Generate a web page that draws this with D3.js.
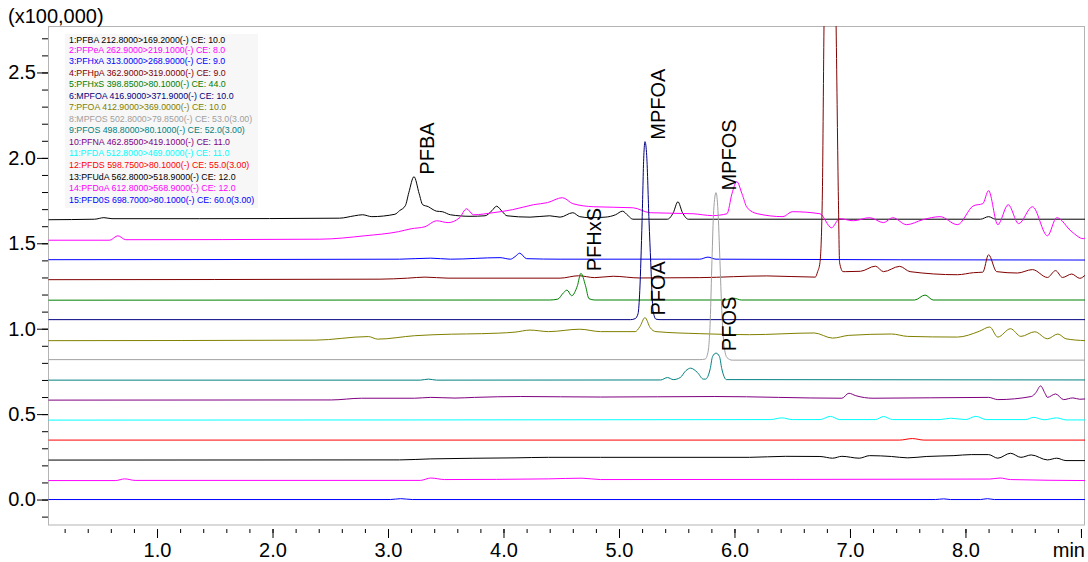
<!DOCTYPE html>
<html>
<meta charset="UTF-8">

<head>
  <script src="https://d3js.org/d3.v7.min.js"></script>
  <style>
    body { margin: 0; background: #fff; }
    svg { font-family: Arial, "Liberation Sans", sans-serif; }
  </style>
</head>

<body>
  <svg id="chart" width="1088" height="562"></svg>

  <script type="text/javascript">
    // legend entries, one per MRM trace (top trace first)
    const traceNames = [
      "1:PFBA 212.8000>169.2000(-) CE: 10.0",
      "2:PFPeA 262.9000>219.1000(-) CE: 8.0",
      "3:PFHxA 313.0000>268.9000(-) CE: 9.0",
      "4:PFHpA 362.9000>319.0000(-) CE: 9.0",
      "5:PFHxS 398.8500>80.1000(-) CE: 44.0",
      "6:MPFOA 416.9000>371.9000(-) CE: 10.0",
      "7:PFOA 412.9000>369.0000(-) CE: 10.0",
      "8:MPFOS 502.8000>79.8500(-) CE: 53.0(3.00)",
      "9:PFOS 498.8000>80.1000(-) CE: 52.0(3.00)",
      "10:PFNA 462.8500>419.1000(-) CE: 11.0",
      "11:PFDA 512.8000>469.0000(-) CE: 11.0",
      "12:PFDS 598.7500>80.1000(-) CE: 55.0(3.00)",
      "13:PFUdA 562.8000>518.9000(-) CE: 12.0",
      "14:PFDoA 612.8000>568.9000(-) CE: 12.0",
      "15:PFD0S 698.7000>80.1000(-) CE: 60.0(3.00)"
    ]

    const traceColors = [
      "#000000", "#ff00ff", "#0000ff", "#800000", "#008000",
      "#000080", "#808000", "#a0a0a0", "#008080", "#800080",
      "#00ffff", "#ff0000", "#000000", "#ff00ff", "#0000ff"
    ]

    // [time (min), intensity (x100,000)] above each trace's own baseline
    const pfba = [[0.06,0],[0.46,0.003],[0.54,0.012],[0.61,0.006],[1.37,0.006],[2.58,0.009],[2.71,0.023],[2.78,0.029],[2.86,0.018],[3.06,0.032],[3.10,0.053],[3.15,0.082],[3.18,0.158],[3.225,0.252],[3.27,0.152],[3.30,0.088],[3.35,0.076],[3.39,0.059],[3.42,0.050],[3.47,0.047],[3.54,0.029],[3.71,0.020],[3.84,0.023],[3.90,0.053],[3.94,0.079],[3.99,0.047],[4.03,0.023],[4.23,0.015],[4.40,0.023],[4.49,0.015],[4.60,0.041],[4.66,0.018],[4.75,0.012],[4.88,0.015],[4.97,0.029],[5.03,0.050],[5.08,0.023],[5.12,0.003],[5.42,0.003],[5.47,0.041],[5.51,0.105],[5.55,0.041],[5.60,0.003],[8.13,0.003],[8.20,0.018],[8.26,0.003],[9.04,0.003]]
    const pfpea = [[0.06,-0.003],[0.59,-0.003],[0.66,0.023],[0.73,0],[2.41,0.003],[2.80,0.023],[3.09,0.047],[3.20,0.064],[3.32,0.076],[3.42,0.111],[3.52,0.100],[3.62,0.129],[3.68,0.181],[3.74,0.146],[3.91,0.158],[4.08,0.176],[4.26,0.205],[4.38,0.217],[4.51,0.246],[4.60,0.211],[4.78,0.193],[5.12,0.187],[5.27,0.158],[5.64,0.152],[5.81,0.141],[5.935,0.152],[5.978,0.269],[6.02,0.340],[6.065,0.269],[6.11,0.187],[6.20,0.152],[6.42,0.135],[6.50,0.164],[6.74,0.152],[6.84,0.070],[6.91,0.123],[7.03,0.111],[7.17,0.129],[7.29,0.100],[7.37,0.129],[7.49,0.088],[7.63,0.117],[7.78,0.135],[7.93,0.088],[8.07,0.199],[8.15,0.211],[8.20,0.287],[8.28,0.088],[8.37,0.205],[8.46,0.094],[8.58,0.193],[8.71,0.023],[8.79,0.129],[8.92,0.047],[9.02,0.006],[9.04,0.012]]
    const pfhxa = [[0.06,0],[3.10,0.003],[3.37,0.009],[3.54,0.003],[3.97,0.012],[4.06,0.003],[4.10,0.018],[4.14,0.038],[4.20,0.006],[4.49,0.003],[5.70,0.003],[5.77,0.015],[5.84,0.003],[9.04,-0.002]]
    const pfhpa = [[0.06,0],[2.93,0.003],[3.17,0.009],[3.32,0.015],[3.52,0.009],[4.49,0.009],[4.65,0.023],[4.79,0.012],[4.95,0.020],[5.18,0.010],[5.70,0.012],[6.28,0.022],[6.70,0.015],[6.72,0.047],[6.74,0.100],[6.76,0.463],[6.775,1.481],[6.83,3.3],[6.88,1.481],[6.90,0.463],[6.91,0.100],[6.94,0.047],[6.96,0.047],[7.09,0.049],[7.22,0.079],[7.29,0.047],[7.43,0.078],[7.52,0.047],[7.93,0.029],[8.07,0.041],[8.15,0.044],[8.20,0.146],[8.27,0.047],[8.45,0.039],[8.58,0.059],[8.71,0.013],[8.78,0.053],[8.84,0.013],[8.92,0.033],[8.99,0.008],[9.04,0.029]]
    const pfhxs = [[0.06,-0.003],[4.40,-0.002],[4.47,0.003],[4.52,0.041],[4.55,0.056],[4.59,0.023],[4.64,0.082],[4.67,0.154],[4.71,0.082],[4.74,0.006],[4.79,-0.002],[5.92,-0.002],[5.99,0.009],[6.06,-0.002],[7.56,-0.002],[7.65,0.027],[7.72,-0.002],[9.04,-0.002]]
    const mpfoa = [[0.06,0],[5.10,0],[5.14,0.006],[5.165,0.035],[5.18,0.170],[5.20,0.580],[5.215,0.960],[5.225,1.042],[5.24,0.960],[5.26,0.580],[5.275,0.334],[5.295,0.053],[5.32,0.003],[5.355,0],[9.04,0]]
    const pfoa = [[0.06,-0.006],[2.37,-0.003],[2.83,0.018],[2.91,0.003],[3.23,0.023],[3.55,0.032],[3.81,0.035],[4.10,0.044],[4.23,0.056],[4.39,0.047],[4.66,0.061],[4.84,0.047],[5.14,0.047],[5.18,0.075],[5.225,0.129],[5.27,0.070],[5.32,0.047],[5.70,0.035],[6.13,0.029],[6.69,0.039],[6.85,0.009],[6.99,0.025],[7.36,0.033],[7.50,0.019],[7.93,0.015],[8.12,0.049],[8.21,0.074],[8.28,0.015],[8.39,0.064],[8.48,0.019],[8.60,0.046],[8.71,0.005],[8.80,0.033],[8.87,0.005],[9.04,-0.006]]
    const mpfos = [[0.06,0],[5.70,0],[5.745,0.003],[5.77,0.041],[5.79,0.228],[5.805,0.580],[5.82,0.873],[5.84,0.978],[5.857,0.873],[5.874,0.580],[5.89,0.287],[5.91,0.082],[5.935,0.012],[5.98,-0.003],[9.04,-0.003]]
    const pfos = [[0.06,-0.003],[3.28,-0.003],[3.35,0.003],[3.42,-0.003],[5.36,-0.002],[5.42,0.012],[5.47,0],[5.53,0.012],[5.58,0.053],[5.62,0.067],[5.68,0.041],[5.73,0.003],[5.75,0.003],[5.79,0.064],[5.81,0.135],[5.84,0.155],[5.87,0.135],[5.89,0.064],[5.93,0],[9.04,-0.002]]
    const pfna = [[0.06,-0.003],[2.51,-0.002],[2.77,0.008],[3.23,0.008],[3.37,0.013],[3.58,0.009],[3.75,0.013],[4.15,0.018],[4.84,0.015],[5.83,0.018],[6.93,0.008],[6.99,0.037],[7.05,0.023],[7.20,0.008],[8.20,0.013],[8.28,0],[8.57,0.018],[8.61,0.041],[8.65,0.080],[8.69,0.035],[8.71,0.013],[8.78,0.033],[8.85,0],[8.93,0.010],[8.99,0.002],[9.04,0.004]]
    const pfda = [[0.06,-0.003],[6.31,0],[6.41,0.010],[6.50,0],[6.74,0],[6.83,0.019],[6.91,0],[7.22,0],[7.29,0.018],[7.37,0],[7.78,0],[7.87,0.008],[8.00,0],[8.09,0.019],[8.18,0],[8.52,0],[8.59,0.013],[8.68,-0.001],[8.79,0.010],[8.87,-0.002],[9.04,-0.002]]
    const pfds = [[0.06,-0.003],[7.43,-0.003],[7.54,0.006],[7.64,-0.003],[9.04,-0.003]]
    const pfuda = [[0.06,-0.003],[3.10,-0.002],[3.37,0.004],[4.10,0.010],[4.39,0.013],[4.84,0.013],[6.13,0.013],[6.44,0.019],[6.74,0.018],[6.85,0.008],[6.93,0.019],[7.08,0.008],[7.17,0.023],[7.36,0.018],[7.50,0.010],[7.66,0.018],[7.90,0.023],[8.05,0.029],[8.20,0.029],[8.28,0.008],[8.39,0.037],[8.48,0.013],[8.57,0.027],[8.71,-0.002],[8.79,0.008],[8.87,-0.006],[9.04,-0.006]]
    const pfdoa = [[0.06,-0.006],[0.64,-0.006],[0.72,0.004],[0.81,-0.005],[3.28,-0.005],[3.37,0.009],[3.49,0],[4.39,0.004],[4.68,0.008],[4.84,0],[8.21,0.003],[8.30,0.009],[8.39,0],[9.04,-0.006]]
    const pfdos = [[0.06,0],[3.02,0],[3.11,0.005],[3.21,0],[7.74,0],[7.81,0.004],[7.87,0],[8.13,0],[8.19,0.005],[8.25,0],[9.04,0]]

    const traces = [pfba, pfpea, pfhxa, pfhpa, pfhxs, mpfoa, pfoa, mpfos, pfos, pfna, pfda, pfds, pfuda, pfdoa, pfdos]

    // peak annotations: name, trace index, retention time
    const peakNames = ["PFBA", "PFHxS", "MPFOA", "PFOA", "MPFOS", "PFOS"]
    const peakTraces = [0, 4, 5, 6, 7, 8]
    const peakTimes = [3.225, 4.67, 5.225, 5.225, 5.84, 5.84]

    const yTickLabels = ["0.0", "0.5", "1.0", "1.5", "2.0", "2.5"]
    const xTickLabels = ["1.0", "2.0", "3.0", "4.0", "5.0", "6.0", "7.0", "8.0", ""]
    const unitLabel = "(x100,000)"
    const timeUnit = "min"

    const traceStep = 0.117   // vertical offset between stacked traces

    const svg = d3.select("#chart")
    const plot = { left: 48, top: 26, right: 1085, bottom: 525.5 }

    const x = d3.scaleLinear().domain([0.056, 9.035]).range([plot.left, plot.right])
    const y = d3.scaleLinear().domain([-0.152, 2.772]).range([plot.bottom, plot.top])

    const baseOf = i => (traces.length - 1 - i) * traceStep

    svg.append("defs").append("clipPath").attr("id", "clip")
      .append("rect")
      .attr("x", plot.left).attr("y", plot.top)
      .attr("width", plot.right - plot.left).attr("height", plot.bottom - plot.top)

    // frame
    svg.append("rect")
      .attr("x", plot.left + 0.5).attr("y", plot.top + 0.5)
      .attr("width", plot.right - plot.left - 1).attr("height", plot.bottom - plot.top - 1)
      .style("fill", "none")
      .style("stroke", "#b4b4b4")

    // y axis
    const yMinor = d3.range(-1, 28).map(d => d / 10)
    const yMajor = yTickLabels.map(Number)

    const yMinorG = svg.append("g")
      .attr("transform", `translate(${plot.left},0)`)
      .call(d3.axisLeft(y).tickValues(yMinor).tickSize(6).tickFormat(""))
    yMinorG.select(".domain").remove()

    const yMajorG = svg.append("g")
      .attr("transform", `translate(${plot.left},0)`)
      .call(d3.axisLeft(y).tickValues(yMajor).tickSize(11).tickPadding(1)
        .tickFormat((d, i) => yTickLabels[i]))
    yMajorG.select(".domain").remove()
    yMajorG.selectAll("text").style("font-size", "20px").style("font-family", "Arial, 'Liberation Sans', sans-serif")

    // x axis
    const xMinor = d3.range(1, 46).map(d => d / 5)
    const xMajor = d3.range(1, 10)

    const xMinorG = svg.append("g")
      .attr("transform", `translate(0,${plot.bottom + 3.5})`)
      .call(d3.axisBottom(x).tickValues(xMinor).tickSize(4).tickFormat(""))
    xMinorG.select(".domain").remove()

    const xMajorG = svg.append("g")
      .attr("transform", `translate(0,${plot.bottom + 3.5})`)
      .call(d3.axisBottom(x).tickValues(xMajor).tickSize(9).tickPadding(5)
        .tickFormat((d, i) => xTickLabels[i]))
    xMajorG.select(".domain").remove()
    xMajorG.selectAll("text").style("font-size", "20px").style("font-family", "Arial, 'Liberation Sans', sans-serif")

    svg.selectAll(".tick line").style("stroke", "#000")

    svg.append("text")
      .attr("x", plot.right)
      .attr("y", 557)
      .style("text-anchor", "end")
      .style("font-size", "20px")
      .text(timeUnit)

    svg.append("text")
      .attr("x", 8)
      .attr("y", 23)
      .style("font-size", "20px")
      .text(unitLabel)

    // legend
    const legendG = svg.append("g")
    legendG.append("rect")
      .attr("x", 65).attr("y", 34)
      .attr("width", 193).attr("height", 174)
      .style("fill", "#f7f7f7")

    legendG.selectAll("text")
      .data(traceNames)
      .enter()
      .append("text")
      .attr("x", 69)
      .attr("y", (d, i) => i === 0 ? 43 : 52.5 + (i - 1) * 11.55)
      .style("font-size", "8.8px")
      .style("fill", (d, i) => traceColors[i])
      .text(d => d)

    // traces
    const line = d3.line()
      .x(d => x(d[0]))
      .y(d => y(d[1]))
      .curve(d3.curveMonotoneX)

    svg.append("g")
      .attr("clip-path", "url(#clip)")
      .selectAll("path")
      .data(traces)
      .enter()
      .append("path")
      .attr("d", (d, i) => line(d.map(p => [p[0], p[1] + baseOf(i)])))
      .style("fill", "none")
      .style("stroke", (d, i) => traceColors[i])
      .style("stroke-width", "1px")

    // peak labels
    svg.append("g")
      .selectAll("text")
      .data(peakNames)
      .enter()
      .append("text")
      .attr("transform", (d, i) => {
        const tr = traces[peakTraces[i]]
        const top = d3.least(tr, p => Math.abs(p[0] - peakTimes[i]))
        const px = x(peakTimes[i]) + 20
        const py = y(top[1] + baseOf(peakTraces[i])) - 2
        return `translate(${px},${py}) rotate(-90)`
      })
      .style("font-size", "20px")
      .style("fill", "#000")
      .text(d => d)
  </script>
</body>

</html>
